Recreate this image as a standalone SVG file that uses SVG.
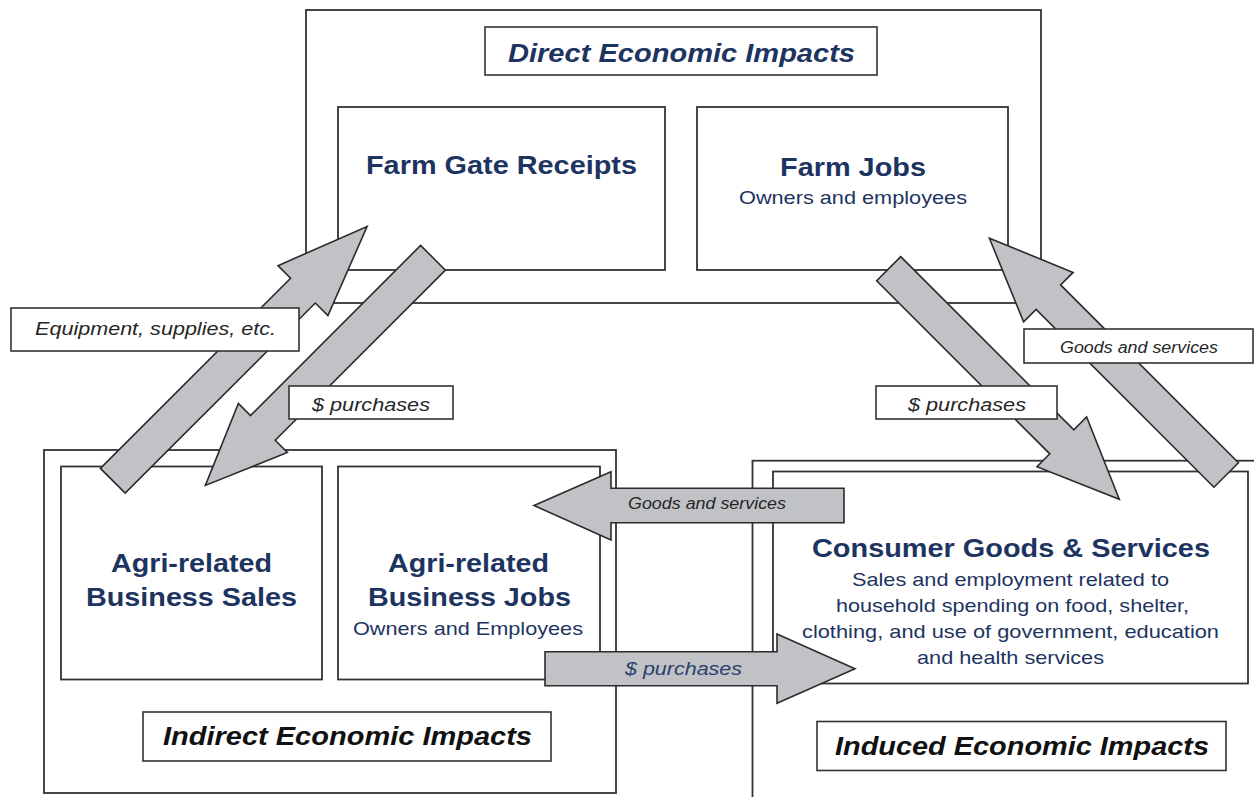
<svg xmlns="http://www.w3.org/2000/svg" width="1254" height="797" viewBox="0 0 1254 797">
<style>
  .box { fill: #ffffff; stroke: #333333; stroke-width: 1.8; }
  .lbl { fill: #ffffff; stroke: #333333; stroke-width: 1.6; }
  .arrow { fill: #c0c2c5; stroke: #2b2b2b; stroke-width: 1.6; stroke-linejoin: miter; }
  .head { font-family: "Liberation Sans", Arial, sans-serif; font-weight: bold; font-size: 26px; fill: #1d3461; }
  .sub { font-family: "Liberation Sans", Arial, sans-serif; font-size: 19px; fill: #1d3461; }
  .title { font-family: "Liberation Sans", Arial, sans-serif; font-weight: bold; font-style: italic; font-size: 26px; fill: #111111; }
  .title.navy { fill: #1d3461; }
  .it { font-family: "Liberation Sans", Arial, sans-serif; font-style: italic; font-size: 19px; fill: #262626; }
  .it.small { font-size: 16px; }
  .it.navy { fill: #2a3f6e; }
</style>
<rect x="0" y="0" width="1254" height="797" fill="#ffffff"/>

<g id="direct-impacts">
  <rect class="box" x="306" y="10" width="735" height="293"/>
  <rect class="lbl" x="485" y="27" width="392" height="48"/>
  <text class="title navy" x="508" y="62" textLength="347" lengthAdjust="spacingAndGlyphs">Direct Economic Impacts</text>
</g>
<g id="farm-gate-receipts">
  <rect class="box" x="338" y="107" width="327" height="163"/>
  <text class="head" x="366" y="174" textLength="271" lengthAdjust="spacingAndGlyphs">Farm Gate Receipts</text>
</g>
<g id="farm-jobs">
  <rect class="box" x="697" y="107" width="311" height="163"/>
  <text class="head" x="780" y="176" textLength="146" lengthAdjust="spacingAndGlyphs">Farm Jobs</text>
  <text class="sub" x="739" y="204" textLength="228" lengthAdjust="spacingAndGlyphs">Owners and employees</text>
</g>

<g id="indirect-impacts">
  <rect class="box" x="44" y="450" width="572" height="343"/>
  <rect class="lbl" x="143" y="712" width="408" height="49"/>
  <text class="title" x="163" y="745" textLength="369" lengthAdjust="spacingAndGlyphs">Indirect Economic Impacts</text>
</g>
<g id="agri-business-sales">
  <rect class="box" x="61" y="466.5" width="261" height="213"/>
  <text class="head" x="111" y="572" textLength="161" lengthAdjust="spacingAndGlyphs">Agri-related</text>
  <text class="head" x="86" y="606" textLength="211" lengthAdjust="spacingAndGlyphs">Business Sales</text>
</g>
<g id="agri-business-jobs">
  <rect class="box" x="338" y="466.5" width="262" height="213"/>
  <text class="head" x="388" y="572" textLength="161" lengthAdjust="spacingAndGlyphs">Agri-related</text>
  <text class="head" x="368" y="606" textLength="203" lengthAdjust="spacingAndGlyphs">Business Jobs</text>
  <text class="sub" x="353" y="635" textLength="230" lengthAdjust="spacingAndGlyphs">Owners and Employees</text>
</g>

<g id="induced-impacts">
  <rect class="box" x="752.5" y="460.7" width="530" height="360"/>
  <rect class="lbl" x="817" y="721.5" width="409" height="49"/>
  <text class="title" x="835" y="755" textLength="374" lengthAdjust="spacingAndGlyphs">Induced Economic Impacts</text>
</g>
<g id="consumer-goods-services">
  <rect class="box" x="773" y="471.5" width="475" height="212"/>
  <text class="head" x="812" y="557" textLength="398" lengthAdjust="spacingAndGlyphs">Consumer Goods &amp; Services</text>
  <text class="sub" x="852" y="586" textLength="317" lengthAdjust="spacingAndGlyphs">Sales and employment related to</text>
  <text class="sub" x="836" y="612" textLength="353" lengthAdjust="spacingAndGlyphs">household spending on food, shelter,</text>
  <text class="sub" x="802" y="638" textLength="417" lengthAdjust="spacingAndGlyphs">clothing, and use of government, education</text>
  <text class="sub" x="917" y="664" textLength="187" lengthAdjust="spacingAndGlyphs">and health services</text>
</g>

<g id="connectors">
  <!-- Agri sales -> Farm Gate Receipts (equipment, supplies) -->
  <polygon class="arrow" transform="translate(112.8,480.8) rotate(-45)" points="0,-17.5 268.9,-17.5 268.9,-35.35 359.6,0 268.9,35.35 268.9,17.5 0,17.5"/>
  <!-- Farm Gate Receipts -> Agri sales ($ purchases) -->
  <polygon class="arrow" transform="translate(433,257.8) rotate(135)" points="0,-17.5 240.6,-17.5 240.6,-34.65 321.9,0 240.6,34.65 240.6,17.5 0,17.5"/>
  <!-- Farm Jobs -> Consumer ($ purchases) -->
  <polygon class="arrow" transform="translate(888.7,268.7) rotate(45)" points="0,-17 244.8,-17 244.8,-35.1 326.1,0 244.8,35.1 244.8,17 0,17"/>
  <!-- Consumer -> Farm Jobs (goods and services) -->
  <polygon class="arrow" transform="translate(1226.2,475) rotate(-135)" points="0,-17.3 251.5,-17.3 251.5,-35 334.9,0 251.5,35 251.5,17.3 0,17.3"/>
  <!-- Consumer -> Agri jobs (goods and services) -->
  <polygon class="arrow" points="844,488.3 611,488.3 611,471.7 534,505.5 611,540 611,522.7 844,522.7"/>
  <text class="it small" x="628" y="509" textLength="158" lengthAdjust="spacingAndGlyphs">Goods and services</text>
  <!-- Agri jobs -> Consumer ($ purchases) -->
  <polygon class="arrow" points="545,651.7 777,651.7 777,634 855,668.7 777,703.3 777,685.7 545,685.7"/>
  <text class="it navy" x="625" y="675" textLength="117" lengthAdjust="spacingAndGlyphs">$ purchases</text>

  <!-- labels on diagonal arrows -->
  <rect class="lbl" x="11" y="308" width="288" height="43"/>
  <text class="it" x="35" y="335" textLength="241" lengthAdjust="spacingAndGlyphs">Equipment, supplies, etc.</text>
  <rect class="lbl" x="289" y="386" width="164" height="33"/>
  <text class="it" x="312" y="411" textLength="118" lengthAdjust="spacingAndGlyphs">$ purchases</text>
  <rect class="lbl" x="876" y="386" width="181" height="33"/>
  <text class="it" x="908" y="411" textLength="118" lengthAdjust="spacingAndGlyphs">$ purchases</text>
  <rect class="lbl" x="1024" y="329" width="229" height="34"/>
  <text class="it small" x="1060" y="353" textLength="158" lengthAdjust="spacingAndGlyphs">Goods and services</text>
</g>
</svg>
